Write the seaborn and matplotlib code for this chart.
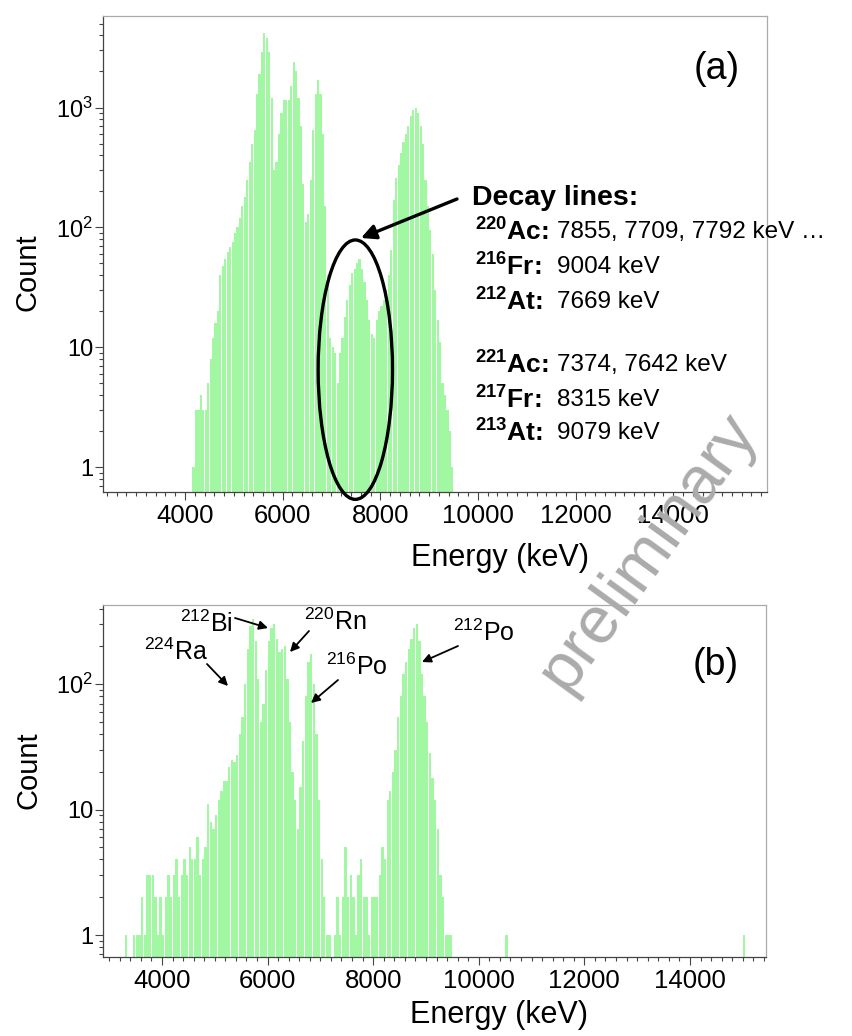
import matplotlib

matplotlib.use("Agg")
import matplotlib.pyplot as plt
import matplotlib.ticker as mticker
import numpy as np
import pandas as pd
import seaborn as sns
from matplotlib.patches import Ellipse

# -----------------------------------------------------------------------------
# Data (counts per 50 keV bin)
# -----------------------------------------------------------------------------
BIN_WIDTH = 50

# panel (a): first bin starts at 4150 keV
top_start = 4150
top_counts = [
    1, 3, 3, 4, 3, 3, 5, 8, 12, 16,                      # 4150-4600
    20, 40, 48, 55, 62, 68, 75, 90, 100, 120,            # 4650-5100
    150, 180, 250, 350, 500, 650, 1300, 1900, 2900, 4200,  # 5150-5600
    3800, 2900, 1200, 300, 350, 600, 900, 1150, 1150, 1150,  # 5650-6100
    1500, 2400, 2000, 1200, 700, 230, 110, 130, 250, 650,  # 6150-6600
    1300, 1700, 1300, 600, 150, 40, 12, 10, 9, 5,        # 6650-7100
    9, 12, 18, 25, 33, 42, 45, 50, 55, 45,               # 7150-7600
    35, 25, 17, 13, 12, 17, 20, 22, 25, 30,              # 7650-8100
    40, 65, 170, 260, 330, 420, 520, 600, 700, 850,      # 8150-8600
    950, 1000, 900, 700, 500, 250, 150, 95, 60, 30,      # 8650-9100
    17, 11, 5, 4, 3, 2, 1,                               # 9150-9450
]

# panel (b): first bin starts at 3300 keV
bottom_start = 3300
bottom_counts = [
    1, 0, 0, 1, 1, 1, 2, 1, 3, 3,                        # 3300-3750
    3, 2, 1, 2, 1, 2, 3, 2, 3, 4,                        # 3800-4250
    2, 3, 4, 3, 5, 4, 4, 6, 3, 4,                        # 4300-4750
    5, 11, 8, 7, 9, 12, 14, 17, 17, 22,                  # 4800-5250
    25, 24, 27, 40, 55, 100, 190, 290, 330, 220,         # 5300-5750
    110, 50, 70, 130, 220, 280, 300, 230, 180, 190,      # 5800-6250
    200, 110, 50, 20, 12, 7, 15, 35, 80, 150,            # 6300-6750
    175, 100, 40, 12, 4, 2, 1, 1, 0, 1,                  # 6800-7250
    2, 1, 2, 5, 2, 3, 2, 1, 3, 4,                        # 7300-7750
    2, 2, 1, 2, 2, 2, 3, 5, 4, 12,                       # 7800-8250
    14, 20, 30, 55, 80, 120, 150, 190, 230, 280,         # 8300-8750
    300, 220, 120, 80, 50, 28, 18, 12, 7, 3,             # 8800-9250
    2, 1, 1, 1,                                          # 9300-9450
]
bottom_extra_energy = [10500, 15000]
bottom_extra_counts = [1, 1]

decay_nuclides = [
    r"$^{\mathbf{220}}$Ac:", r"$^{\mathbf{216}}$Fr:", r"$^{\mathbf{212}}$At:",
    r"$^{\mathbf{221}}$Ac:", r"$^{\mathbf{217}}$Fr:", r"$^{\mathbf{213}}$At:",
]
decay_energies = [
    "7855, 7709, 7792 keV …", "9004 keV", "7669 keV",
    "7374, 7642 keV", "8315 keV", "9079 keV",
]

x_ticks = [4000, 6000, 8000, 10000, 12000, 14000]

GREEN = "#a2f7a2"
W, H = 852, 1036


def spectrum_frame(start, counts, extra_e=(), extra_c=()):
    centers = start + BIN_WIDTH * np.arange(len(counts)) + BIN_WIDTH / 2
    energy = list(centers) + [e + BIN_WIDTH / 2 for e in extra_e]
    return pd.DataFrame({"energy": energy, "count": list(counts) + list(extra_c)})


def style_axis(ax, xlim, ylim, ylabels):
    ax.set_yscale("log")
    ax.set_xlim(*xlim)
    ax.set_ylim(*ylim)
    ax.xaxis.set_major_locator(mticker.FixedLocator(x_ticks))
    ax.xaxis.set_minor_locator(mticker.MultipleLocator(200))
    ax.xaxis.set_major_formatter(mticker.FuncFormatter(lambda v, p: f"{v:.0f}"))
    decades = [10**i for i in range(len(ylabels))]
    ax.yaxis.set_major_locator(mticker.FixedLocator(decades))
    ax.yaxis.set_major_formatter(mticker.FixedFormatter(ylabels))
    ax.yaxis.set_minor_locator(mticker.LogLocator(base=10, subs=range(2, 10)))
    ax.yaxis.set_minor_formatter(mticker.NullFormatter())
    ax.tick_params(axis="both", which="major", direction="out", length=6,
                   width=0.8, color="#444444", labelcolor="black")
    ax.tick_params(axis="both", which="minor", direction="out", length=3,
                   width=0.8, color="#444444")
    ax.tick_params(axis="x", which="major", labelsize=18.5, pad=3)
    ax.tick_params(axis="y", which="major", labelsize=17, pad=1)
    for side in ["left", "bottom"]:
        ax.spines[side].set_color("#444444")
        ax.spines[side].set_linewidth(0.9)
    for side in ["top", "right"]:
        ax.spines[side].set_visible(True)
        ax.spines[side].set_color("#aaaaaa")
        ax.spines[side].set_linewidth(0.9)
    ax.grid(False)


def fpix(x, y):
    return (x, H - y)


sns.set_style("ticks")
plt.rcParams["font.family"] = ["Liberation Sans", "DejaVu Sans"]
plt.rcParams["mathtext.fontset"] = "custom"
plt.rcParams["mathtext.rm"] = "Liberation Sans"
plt.rcParams["mathtext.it"] = "Liberation Sans:italic"
plt.rcParams["mathtext.bf"] = "Liberation Sans:bold"
plt.rcParams["text.color"] = "black"
plt.rcParams["axes.labelcolor"] = "black"

fig = plt.figure(figsize=(W / 100, H / 100), dpi=100)
ax_a = fig.add_axes([103 / W, 1 - 492 / H, 664 / W, 476 / H])
ax_b = fig.add_axes([103 / W, 1 - 957 / H, 663 / W, 352 / H])

top_df = spectrum_frame(top_start, top_counts)
bottom_df = spectrum_frame(bottom_start, bottom_counts,
                           bottom_extra_energy, bottom_extra_counts)

top_range = (top_start, top_start + BIN_WIDTH * len(top_counts))
bottom_range = (bottom_start, 15100)

for ax, df, brange in [(ax_a, top_df, top_range), (ax_b, bottom_df, bottom_range)]:
    ax.set_yscale("log")
    sns.histplot(data=df, x="energy", weights="count", binwidth=BIN_WIDTH,
                 binrange=brange, ax=ax, color=GREEN, alpha=1, linewidth=0,
                 shrink=0.88)

style_axis(ax_a, (2320, 15920), (0.62, 5800), ["1", "10", r"10$^2$", r"10$^3$"])
style_axis(ax_b, (2883, 15440), (0.668, 427), ["1", "10", r"10$^2$"])

for ax, ly, lx_y in [(ax_a, 0.462, -0.139), (ax_b, 0.531, -0.165)]:
    ax.set_ylabel("Count", fontsize=21)
    ax.yaxis.set_label_coords(-0.113, ly)
    ax.yaxis.label.set_verticalalignment("center")
    ax.set_xlabel("Energy (keV)", fontsize=22)
    ax.xaxis.set_label_coords(0.598, lx_y)
    ax.xaxis.label.set_verticalalignment("center")

# panel labels
ax_a.annotate("(a)", xy=fpix(717, 69), xycoords="figure pixels",
              fontsize=27, ha="center", va="center")
ax_b.annotate("(b)", xy=fpix(716, 665), xycoords="figure pixels",
              fontsize=27, ha="center", va="center")

# ellipse around the 7-8 MeV region + arrow from the decay list
ax_a.add_patch(Ellipse((0.380, 0.257), 0.112, 0.545, transform=ax_a.transAxes,
                       fill=False, ec="black", lw=2.4, clip_on=False, zorder=5))
ax_a.annotate("", xy=fpix(361, 238), xycoords="figure pixels",
              xytext=fpix(457, 199), textcoords="figure pixels",
              arrowprops=dict(arrowstyle="-|>", color="black", lw=2.4,
                              mutation_scale=22, shrinkA=0, shrinkB=0))
ax_a.annotate("Decay lines:", xy=fpix(472, 198), xycoords="figure pixels",
              fontsize=20.5, fontweight="bold", ha="left", va="center")
for nuc, en, y in zip(decay_nuclides, decay_energies,
                      [232, 267, 302, 365, 400, 433]):
    ax_a.annotate(nuc, xy=fpix(475, y), xycoords="figure pixels",
                  fontsize=19, fontweight="bold", ha="left", va="center",
                  annotation_clip=False)
    ax_a.annotate(en, xy=fpix(557, y), xycoords="figure pixels",
                  fontsize=17.5, ha="left", va="center", annotation_clip=False)

# isotope labels on panel (b)
labels_b = [
    (r"$^{212}$Bi", (206, 624), (235, 618), (268, 628)),
    (r"$^{224}$Ra", (176, 652), (207, 664), (228, 686)),
    (r"$^{220}$Rn", (335, 622), (309, 631), (290, 652)),
    (r"$^{216}$Po", (357, 667), (338, 680), (311, 703)),
    (r"$^{212}$Po", (484, 633), (458, 646), (422, 662)),
]
for txt, pos, tail, head in labels_b:
    ax_b.annotate(txt, xy=fpix(*pos), xycoords="figure pixels",
                  fontsize=18, ha="center", va="center")
    ax_b.annotate("", xy=fpix(*head), xycoords="figure pixels",
                  xytext=fpix(*tail), textcoords="figure pixels",
                  arrowprops=dict(arrowstyle="-|>", color="black", lw=1.3,
                                  mutation_scale=13, shrinkA=0, shrinkB=0))

# watermark
fig.text(648 / W, 1 - 552 / H, "preliminary", rotation=54, fontsize=48,
         color="#ababab", ha="center", va="center", zorder=20)

fig.savefig("out.png", dpi=100)
